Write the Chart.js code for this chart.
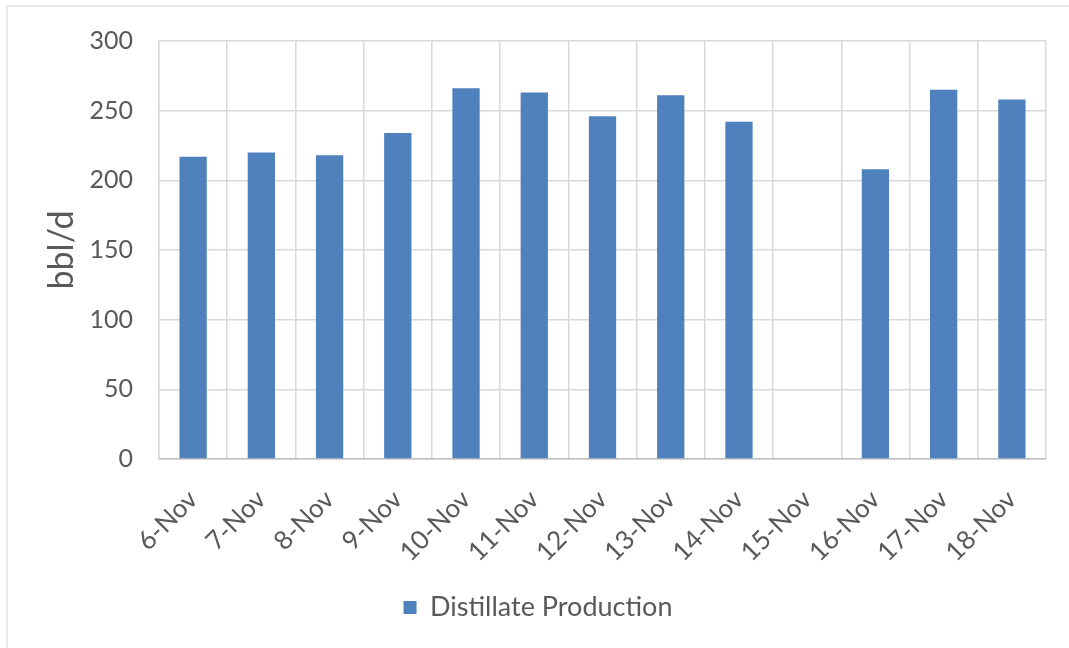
<!DOCTYPE html>
<html>
<head>
<meta charset="utf-8">
<script src="https://cdn.jsdelivr.net/npm/chart.js@4/dist/chart.umd.min.js"></script>
<style>
  html, body { margin: 0; padding: 0; background: #fff; overflow: hidden; }
  #frame { position: absolute; left: 6px; top: 5px; width: 1100px; height: 700px; border: 2px solid #e8e8e8; }
  #wrap { position: absolute; left: 0; top: 0; width: 1069px; height: 648px; }
</style>
</head>
<body>
<div id="frame"></div>
<div id="wrap"><canvas id="chart"></canvas></div>
<script>
const days = ['6-Nov', '7-Nov', '8-Nov', '9-Nov', '10-Nov', '11-Nov', '12-Nov', '13-Nov', '14-Nov', '15-Nov', '16-Nov', '17-Nov', '18-Nov'];
const distillate = [217, 220, 218, 234, 266, 263, 246, 261, 242, 0, 208, 265, 258];
const yTicks = [0, 50, 100, 150, 200, 250, 300];

const FONT = "Lato, 'Open Sans', sans-serif";
const TEXT = '#595959';

new Chart(document.getElementById('chart'), {
  type: 'bar',
  data: {
    labels: days,
    datasets: [{
      label: 'Distillate Production',
      data: distillate,
      backgroundColor: '#4f81bd',
      borderWidth: 0,
      categoryPercentage: 1,
      barPercentage: 0.4,
    }],
  },
  options: {
    responsive: true,
    maintainAspectRatio: false,
    animation: false,
    layout: { padding: { top: 39, right: 23, bottom: 17, left: 30 } },
    plugins: {
      tooltip: { enabled: false },
      legend: {
        position: 'bottom',
        labels: { font: { family: FONT, size: 27 }, color: TEXT, boxWidth: 13, boxHeight: 13, padding: 10 },
      },
    },
    scales: {
      x: {
        grid: { color: '#d9d9d9', lineWidth: 1.5, drawTicks: false, offset: true },
        border: { color: '#bfbfbf', width: 1.5 },
        ticks: { font: { family: FONT, size: 26 }, color: TEXT, minRotation: 45, maxRotation: 45, padding: 25, autoSkip: false },
        afterFit: s => { s.height = 125; },
      },
      y: {
        min: 0,
        max: 300,
        afterBuildTicks: s => { s.ticks = yTicks.map(v => ({ value: v })); },
        grid: { color: '#d9d9d9', lineWidth: 1.5, drawTicks: false },
        border: { color: '#d9d9d9', width: 1.5 },
        ticks: { font: { family: FONT, size: 25 }, color: TEXT, padding: 26 },
        title: { display: true, text: 'bbl/d', font: { family: FONT, size: 34 }, color: TEXT, padding: { top: 12, bottom: 0 } },
        afterFit: s => { s.width = 129; },
      },
    },
  },
});
</script>
</body>
</html>
